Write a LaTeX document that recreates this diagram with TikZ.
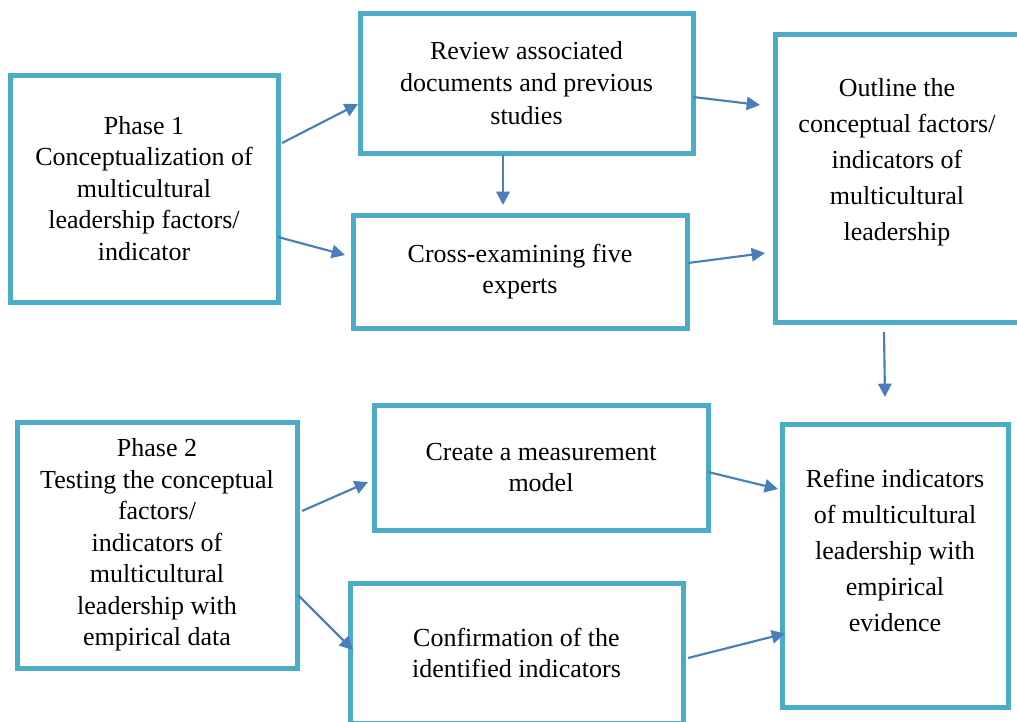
\documentclass[tikz,border=0pt]{standalone}
\usepackage{fontspec}
\setmainfont{Liberation Serif}
\usetikzlibrary{arrows.meta,calc}
\definecolor{boxc}{HTML}{4BACC6}
\definecolor{arrc}{HTML}{4A7EBB}
\begin{document}
\begin{tikzpicture}[x=0.75pt,y=-0.75pt,
  box/.style={draw=boxc,line width=3.75pt,rectangle,inner sep=0pt,outer sep=0pt},
  txt/.style={align=center,inner sep=0pt,font=\fontsize{19.5}{23.6}\selectfont},
  txtw/.style={align=center,inner sep=0pt,font=\fontsize{19.5}{27}\selectfont},
  arr/.style={draw=arrc,line width=1.6pt,-{Triangle[length=10pt,width=10pt]}}]
\useasboundingbox (0,0) rectangle (1017,721);
\fill[white] (0,0) rectangle (1017,721);
% boxes
\node[box,minimum width=201pt,minimum height=170.25pt] (p1) at (144,188.5) {};
\node[box,minimum width=249.75pt,minimum height=105pt] (rev) at (526.5,83) {};
\node[box,minimum width=250.5pt,minimum height=84.75pt] (cross) at (520,271.5) {};
\node[box,minimum width=183pt,minimum height=216pt] (outl) at (897,178) {};
\node[box,minimum width=210pt,minimum height=184.5pt] (p2) at (157,545) {};
\node[box,minimum width=250.5pt,minimum height=93.75pt] (create) at (541,467.5) {};
\node[box,minimum width=249.75pt,minimum height=105pt] (conf) at (516.5,653) {};
\node[box,minimum width=169.5pt,minimum height=212.25pt] (ref) at (895,565.5) {};
% texts
\node[txt] (tp1) at (p1.center) {Phase 1\\Conceptualization of\\multicultural\\leadership factors/\\indicator};
\node[txt,font=\fontsize{19.5}{24.4}\selectfont] (trev) at (rev.center) {Review associated\\documents and previous\\studies};
\node[txt] (tcross) at (cross.center) {Cross-examining five\\experts};
\node[txtw] (toutl) at ([shift={(0,-16)}]outl.center) {Outline the\\conceptual factors/\\indicators of\\multicultural\\leadership};
\node[txt] (tp2) at (p2.center) {Phase 2\\Testing the conceptual\\factors/\\indicators of\\multicultural\\leadership with\\empirical data};
\node[txt] (tcreate) at (create.center) {Create a measurement\\model};
\node[txt] (tconf) at (conf.center) {Confirmation of the\\identified indicators};
\node[txtw] (tref) at ([shift={(0,-15)}]ref.center) {Refine indicators\\of multicultural\\leadership with\\empirical\\evidence};
% arrows
\draw[arr] ([shift={(4,-45.5)}]p1.east) -- ([shift={(-2,21)}]rev.west);
\draw[arr] ([shift={(0,48.5)}]p1.east) -- ([shift={(-8,-16.5)}]cross.west);
\draw[arr] ([shift={(-23.5,2)}]rev.south) -- ([shift={(-17,-10)}]cross.north);
\draw[arr] ([shift={(0,14)}]rev.east) -- ([shift={(-15,-73)}]outl.west);
\draw[arr] ([shift={(1,-8.5)}]cross.east) -- ([shift={(-10,75)}]outl.west);
\draw[arr] ([shift={(-13,10)}]outl.south) -- ([shift={(-10,-27)}]ref.north);
\draw[arr] ([shift={(5,-34)}]p2.east) -- ([shift={(-6,14.5)}]create.west);
\draw[arr] ([shift={(1,50)}]p2.east) -- ([shift={(3,-3)}]conf.west);
\draw[arr] ([shift={(0,4.5)}]create.east) -- ([shift={(-4,-76.5)}]ref.west);
\draw[arr] ([shift={(5,5)}]conf.east) -- ([shift={(3,68)}]ref.west);
\end{tikzpicture}
\end{document}
